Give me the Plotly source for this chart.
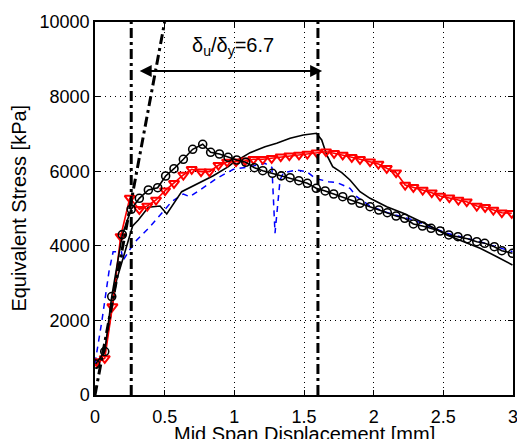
import plotly.graph_objects as go

# ---- data ----
circ_x = [0.005, 0.07, 0.12, 0.196, 0.26, 0.318, 0.383, 0.45, 0.507, 0.567, 0.634, 0.701, 0.773, 0.83,
          0.893, 0.955, 1.017, 1.082, 1.144, 1.204, 1.273, 1.337, 1.4, 1.463, 1.524, 1.588, 1.652, 1.713,
          1.778, 1.843, 1.902, 1.974, 2.037, 2.098, 2.161, 2.223, 2.285, 2.35, 2.412, 2.477, 2.539, 2.605,
          2.673, 2.74, 2.797, 2.866, 2.92, 2.996]
circ_y = [830, 1165, 2640, 4300, 4980, 5273, 5496, 5558, 5871, 6067, 6319, 6587, 6721, 6507,
          6461, 6372, 6300, 6239, 6094, 6014, 5944, 5876, 5826, 5745, 5676, 5542, 5470, 5389,
          5317, 5228, 5139, 5048, 4960, 4888, 4799, 4737, 4585, 4531, 4469, 4397, 4290, 4244,
          4191, 4110, 4067, 3976, 3869, 3799]

tri_x = [0.01, 0.07, 0.125, 0.184, 0.25, 0.318, 0.375, 0.438, 0.503, 0.567, 0.634, 0.694, 0.761, 0.821,
         0.886, 0.948, 1.012, 1.077, 1.137, 1.204, 1.268, 1.333, 1.395, 1.464, 1.524, 1.591, 1.658, 1.716,
         1.778, 1.843, 1.902, 1.974, 2.034, 2.094, 2.161, 2.226, 2.285, 2.352, 2.417, 2.477, 2.543, 2.608,
         2.668, 2.74, 2.8, 2.859, 2.92, 2.991]
tri_y = [900, 980, 2370, 4250, 5280, 4978, 5067, 5228, 5478, 5675, 5898, 6050, 5987, 5987,
         6160, 6250, 6255, 6282, 6319, 6320, 6346, 6390, 6416, 6435, 6461, 6497, 6523, 6480,
         6435, 6373, 6319, 6255, 6193, 6078, 5960, 5630, 5568, 5496, 5424, 5335, 5290, 5228,
         5183, 5067, 5032, 4960, 4888, 4871]

solid_x = [0.01, 0.07, 0.155, 0.27, 0.311, 0.383, 0.467, 0.515, 0.622, 0.754, 0.849, 0.957, 0.993, 1.113,
           1.22, 1.304, 1.4, 1.495, 1.59, 1.627, 1.663, 1.706, 1.771, 1.83, 1.902, 1.974, 2.094, 2.213,
           2.309, 2.405, 2.525, 2.668, 2.764, 2.884, 2.996]
solid_y = [700, 1150, 3080, 4531, 4692, 5032, 5067, 4853, 5451, 5700, 5880, 6121, 6228, 6497,
           6657, 6747, 6882, 6971, 7016, 6837, 6435, 6121, 5960, 5764, 5451, 5273, 5048, 4871,
           4710, 4531, 4290, 4067, 3933, 3708, 3485]

blue_x = [0.0, 0.05, 0.1, 0.13, 0.19, 0.2, 0.25, 0.3, 0.395, 0.478, 0.55, 0.634, 0.68, 0.778, 0.874,
          0.993, 1.113, 1.22, 1.27, 1.292, 1.328, 1.352, 1.448, 1.52, 1.579, 1.675, 1.735, 1.83, 1.878,
          1.974, 2.1, 2.285, 2.525, 2.764, 2.996]
blue_y = [850, 2000, 3300, 3840, 3840, 3600, 3900, 4155, 4512, 4888, 5183, 5389, 5317, 5560, 5810,
          6050, 6121, 6211, 6100, 4340, 5764, 5960, 6032, 5987, 5810, 5719, 5700, 5541, 5317,
          5067, 4888, 4692, 4335, 4110, 3843]

yield_line_x = [0.0, 0.5]
yield_line_y = [0, 10000]
delta_y = 0.26
delta_u = 1.6
arrow_y = 8686
ratio_text = "δ<sub>u</sub>/δ<sub>y</sub>=6.7"

x_ticks = [0, 0.5, 1, 1.5, 2, 2.5, 3]
x_tick_text = ["0", "0.5", "1", "1.5", "2", "2.5", "3"]
y_ticks = [0, 2000, 4000, 6000, 8000, 10000]
y_tick_text = ["0", "2000", "4000", "6000", "8000", "10000"]

FONT = "Liberation Sans, Arial, sans-serif"
DASHDOT = "10px,4px,3px,4px"

fig = go.Figure()
fig.add_trace(go.Scatter(x=blue_x, y=blue_y, mode="lines",
                         line=dict(color="#0000ff", width=1.5, dash="6px,5px"), showlegend=False))
fig.add_trace(go.Scatter(x=solid_x, y=solid_y, mode="lines",
                         line=dict(color="black", width=1.6), showlegend=False))
fig.add_trace(go.Scatter(x=tri_x, y=tri_y, mode="lines+markers",
                         line=dict(color="#ff0000", width=1.6),
                         marker=dict(symbol="triangle-down-open", size=9, color="#ff0000",
                                     line=dict(width=2, color="#ff0000")), showlegend=False))
fig.add_trace(go.Scatter(x=circ_x, y=circ_y, mode="lines+markers",
                         line=dict(color="black", width=1.6),
                         marker=dict(symbol="circle-open", size=8, color="black",
                                     line=dict(width=1.6, color="black")), showlegend=False))
# dash-dot reference lines
fig.add_trace(go.Scatter(x=yield_line_x, y=yield_line_y, mode="lines",
                         line=dict(color="black", width=3, dash=DASHDOT), showlegend=False))
for xv in [delta_y, delta_u]:
    fig.add_trace(go.Scatter(x=[xv, xv], y=[0, 10000], mode="lines",
                             line=dict(color="black", width=3, dash=DASHDOT),
                             showlegend=False))

fig.add_annotation(x=delta_u + 0.03, y=arrow_y, ax=delta_y + 0.05, ay=arrow_y,
                   xref="x", yref="y", axref="x", ayref="y", text="", showarrow=True,
                   arrowhead=2, arrowside="end+start", arrowsize=1.2, arrowwidth=2, arrowcolor="black")
fig.add_annotation(x=(delta_y + delta_u) / 2 + 0.06, y=9330, xref="x", yref="y", text=ratio_text,
                   showarrow=False, font=dict(family=FONT, size=20, color="black"))

# axis titles as annotations for exact placement
fig.add_annotation(x=0.5, y=-0.104, xref="paper", yref="paper", text="Mid Span Displacement [mm]",
                   showarrow=False, xanchor="center", yanchor="middle",
                   font=dict(family=FONT, size=20, color="black"))
fig.add_annotation(x=-0.184, y=0.5, xref="paper", yref="paper", text="Equivalent Stress [kPa]",
                   showarrow=False, textangle=-90, xanchor="center", yanchor="middle",
                   font=dict(family=FONT, size=20, color="black"))

axis_common = dict(showline=True, linecolor="black", linewidth=1.5, mirror="ticks",
                   ticks="inside", ticklen=5, tickcolor="black", tickwidth=1,
                   showgrid=True, gridcolor="black", gridwidth=1, griddash="1px,4px",
                   zeroline=False, automargin=False, ticklabeloverflow="allow",
                   tickfont=dict(family=FONT, size=18, color="black"))

fig.update_xaxes(range=[0, 3], tickvals=x_ticks, ticktext=x_tick_text, ticklabelstandoff=5,
                 **axis_common)
fig.update_yaxes(range=[0, 10000], tickvals=y_ticks, ticktext=y_tick_text, **axis_common)

fig.update_layout(width=517, height=439, margin=dict(l=95, r=4, t=22, b=44),
                  plot_bgcolor="white", paper_bgcolor="white", showlegend=False)

fig.write_html("out.html", config={"displayModeBar": False},
               post_script="document.body.style.margin='0';document.body.style.overflow='hidden';")
